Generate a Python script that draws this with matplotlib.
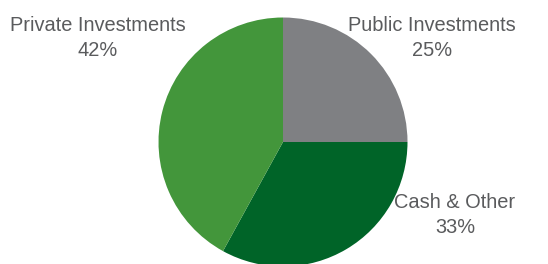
import matplotlib.pyplot as plt

labels = ['Public Investments', 'Cash & Other', 'Private Investments']
shares = [25, 33, 42]
colors = ['#7f8083', '#006428', '#43963b']

# label positions in pixel coordinates (x, y from top)
label_pos = [(432, 38), (455, 215), (98, 38)]

W, H = 548, 264
fig = plt.figure(figsize=(W / 100, H / 100), dpi=100)
ax = fig.add_axes([0, 0, 1, 1])

ax.pie(shares, colors=colors, startangle=90, counterclock=False,
       center=(283, H - 142), radius=124.5,
       wedgeprops={'linewidth': 0})
ax.set_xlim(0, W)
ax.set_ylim(0, H)
ax.set_aspect('equal')
ax.axis('off')

for lab, val, (x, y) in zip(labels, shares, label_pos):
    ax.text(x, H - y, f'{lab}\n{val}%', ha='center', va='center',
            fontsize=14.4, color='#5a5b5d', family='Liberation Sans',
            linespacing=1.45)

fig.savefig('out.png', dpi=100)
